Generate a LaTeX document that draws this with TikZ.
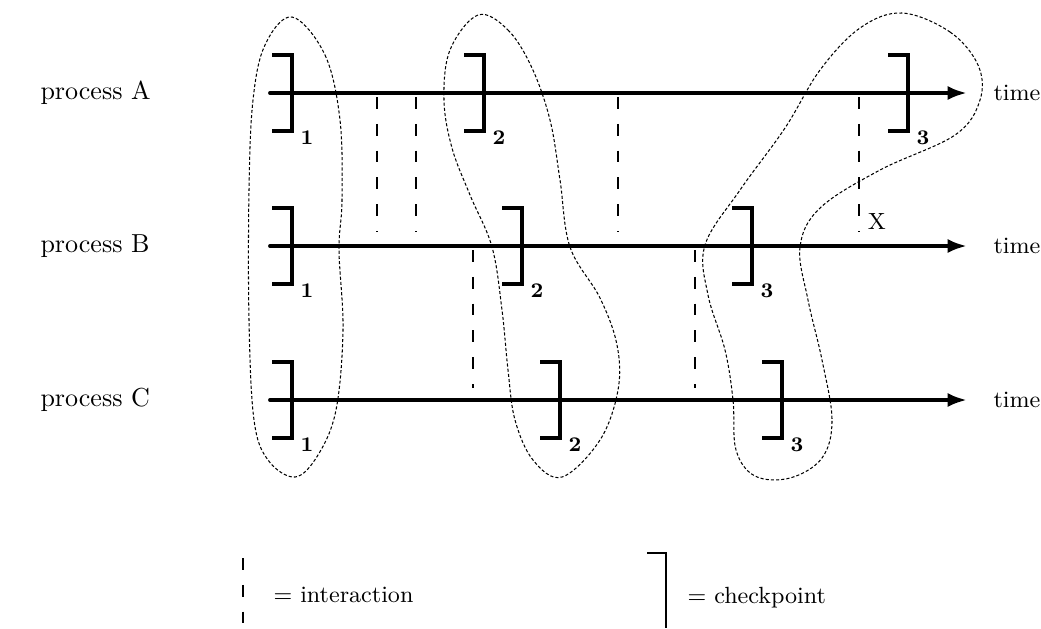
\documentclass[tikz,border=0pt]{standalone}
\usetikzlibrary{arrows.meta}

\tikzset{
  timeline/.style={line width=1.5pt, line cap=round, -{Latex[length=7.5pt,width=5.5pt]}},
  ckpt/.style={line width=1.2pt},
  inter/.style={line width=0.6pt, dash pattern=on 4.5pt off 5.8pt},
  recov/.style={line width=0.4pt, dash pattern=on 1.2pt off 0.8pt},
  sub/.style={font=\footnotesize\bfseries, inner sep=0pt},
}

\begin{document}
\begin{tikzpicture}[x=0.0135cm, y=-0.0135cm]
    \useasboundingbox (0,0) rectangle (1041,628);

    % Process names and time axes
    \foreach \p/\y in {A/93, B/246, C/400} {
        \node[anchor=west, inner sep=0pt] (name\p) at (40,\y) {process \p};
        \coordinate (start\p) at (270,\y);
        \coordinate (end\p) at (967,\y);
        \draw[timeline] (start\p) -- (end\p);
        \node[anchor=west, inner sep=0pt, font=\small] (time\p) at (993,\y) {time};
    }

    % Checkpoints with their numbers
    \foreach \x/\y/\n [count=\i] in {292/93/1, 484/93/2, 908/93/3,
                                     292/246/1, 522/246/2, 752/246/3,
                                     292/400/1, 560/400/2, 782/400/3} {
        \draw[ckpt] (\x-20,\y-38) -- (\x,\y-38) -- (\x,\y+38) -- (\x-20,\y+38);
        \node[sub] (num\i) at (\x+15,\y+45) {\n};
    }

    % Interactions between processes
    \foreach \x/\ya/\yb in {377/97/232, 416/97/232, 618/97/232, 859/97/232,
                            473/250/388, 695/250/388}
        \draw[inter] (\x,\ya) -- (\x,\yb);
    \node[font=\small, inner sep=0pt] (lost) at (877,221) {X};

    % Recovery lines
    \draw[recov] plot[smooth cycle, tension=0.6] coordinates {
        (292,17) (325,55) (340,120) (342,200) (339,250) (343,330)
        (336,410) (318,455) (295,477) (268,460) (254,420) (249,320)
        (249,190) (253,100) (265,45)};
    \draw[recov] plot[smooth cycle, tension=0.6] coordinates {
        (478,15) (508,30) (532,68) (550,120) (560,180) (570,247)
        (600,298) (617,345) (618,390) (600,440) (562,477) (533,460)
        (515,420) (508,370) (502,310) (492,247) (470,195) (452,148)
        (444,100) (450,50)};
    \draw[recov] plot[smooth cycle, tension=0.6] coordinates {
        (902,13) (950,32) (978,65) (980,100) (955,135) (880,170)
        (820,208) (800,247) (808,300) (822,360) (832,420) (822,458)
        (790,478) (755,476) (736,450) (733,400) (725,350) (708,295)
        (705,245) (740,190) (785,128) (820,70) (860,28)};

    % Legend
    \draw[inter] (243,558) -- (243,628);
    \node[anchor=west, inner sep=0pt, font=\small] (keyInter) at (273,595) {$=$ interaction};
    \draw[line width=0.9pt] (647,553) -- (666,553) -- (666,628);
    \node[anchor=west, inner sep=0pt, font=\small] (keyCkpt) at (687,598) {$=$ checkpoint};
\end{tikzpicture}
\end{document}
